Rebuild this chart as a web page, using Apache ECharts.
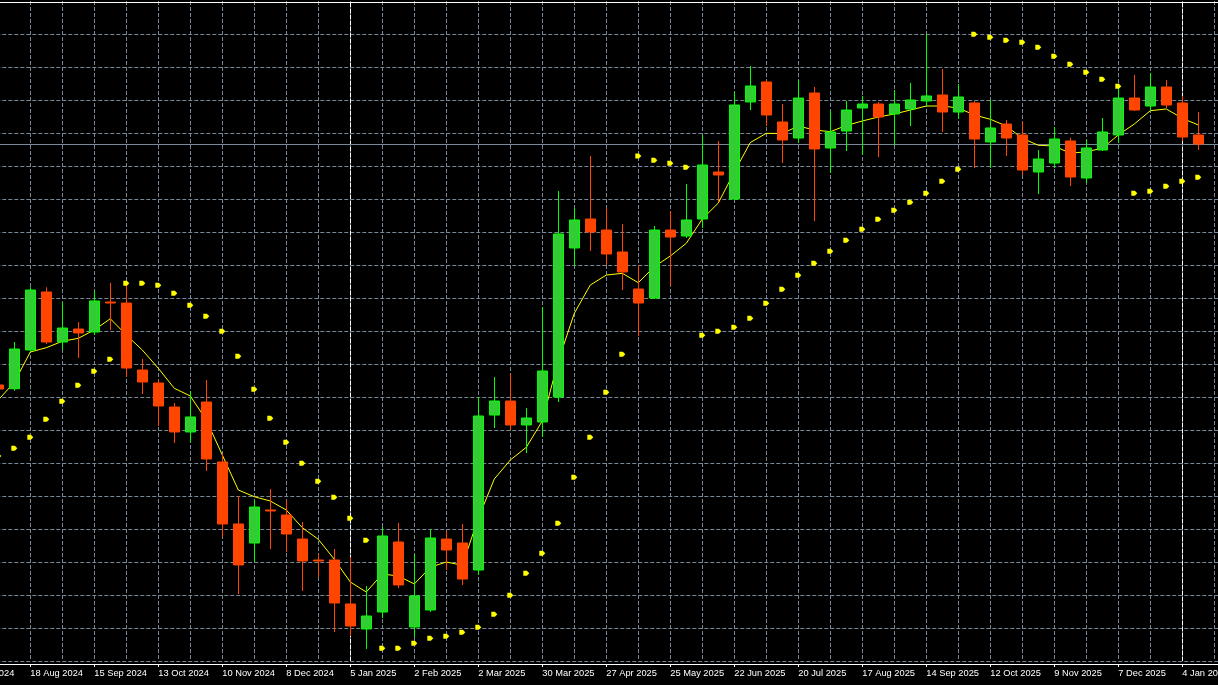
<!DOCTYPE html>
<html>
<head>
<meta charset="utf-8">
<script src="https://cdn.jsdelivr.net/npm/echarts@6/dist/echarts.min.js"></script>
<style>
html,body{margin:0;padding:0;background:#000;}
#c{width:1218px;height:685px;}
</style>
</head>
<body>
<div id="c"></div>
<script>
// Weekly categories (21 Jul 2024 .. 25 Jan 2026)
const weeks = [
'21 Jul 2024','28 Jul 2024','4 Aug 2024','11 Aug 2024','18 Aug 2024','25 Aug 2024','1 Sep 2024','8 Sep 2024','15 Sep 2024','22 Sep 2024','29 Sep 2024','6 Oct 2024','13 Oct 2024','20 Oct 2024','27 Oct 2024','3 Nov 2024','10 Nov 2024','17 Nov 2024','24 Nov 2024','1 Dec 2024','8 Dec 2024','15 Dec 2024','22 Dec 2024','29 Dec 2024',
'5 Jan 2025','12 Jan 2025','19 Jan 2025','26 Jan 2025','2 Feb 2025','9 Feb 2025','16 Feb 2025','23 Feb 2025','2 Mar 2025','9 Mar 2025','16 Mar 2025','23 Mar 2025','30 Mar 2025','6 Apr 2025','13 Apr 2025','20 Apr 2025','27 Apr 2025','4 May 2025','11 May 2025','18 May 2025','25 May 2025','1 Jun 2025','8 Jun 2025','15 Jun 2025','22 Jun 2025','29 Jun 2025','6 Jul 2025','13 Jul 2025','20 Jul 2025','27 Jul 2025','3 Aug 2025','10 Aug 2025','17 Aug 2025','24 Aug 2025','31 Aug 2025','7 Sep 2025','14 Sep 2025','21 Sep 2025','28 Sep 2025','5 Oct 2025','12 Oct 2025','19 Oct 2025','26 Oct 2025','2 Nov 2025','9 Nov 2025','16 Nov 2025','23 Nov 2025','30 Nov 2025','7 Dec 2025','14 Dec 2025','21 Dec 2025','28 Dec 2025',
'4 Jan 2026','11 Jan 2026','18 Jan 2026','25 Jan 2026'
];
// first bar (4 Aug 2024) is at this position in weeks
const firstBar = 2;

const open = [141.82,141.26,147.12,155.91,148.33,150.30,149.85,154.39,154.24,144.09,
142.12,138.48,134.70,139.24,130.15,120.76,117.88,122.88,122.12,118.48,
115.30,115.30,108.64,104.85,107.42,118.03,105.15,107.73,118.48,117.88,
113.79,137.27,139.39,135.76,136.21,140.00,162.58,166.97,165.30,161.97,
156.36,155.00,165.30,164.39,166.97,174.09,170.00,184.70,187.73,181.67,
179.24,186.06,177.73,180.30,183.79,184.39,182.88,183.64,184.85,185.76,
183.18,184.55,178.64,181.36,179.70,174.09,175.45,178.79,173.18,177.42,
179.70,185.30,184.09,186.97,184.55,179.70];

const high = [142.58,148.33,156.62,156.62,154.35,151.36,156.02,157.27,157.42,145.76,
142.58,139.09,140.91,142.58,131.36,125.00,124.39,126.06,124.39,121.06,
116.21,116.97,115.76,111.36,120.30,120.91,116.21,120.00,119.70,120.76,
140.00,143.03,143.48,138.33,153.64,171.21,168.64,176.52,168.64,166.21,
160.00,165.91,168.18,172.27,179.70,178.79,186.21,190.15,188.03,184.39,
188.03,186.97,183.33,184.85,185.61,184.70,186.52,187.58,195.00,189.70,
187.42,184.85,185.00,181.97,181.67,177.42,180.91,179.24,178.94,182.27,
187.42,188.79,189.09,188.03,185.61,183.18];

const low = [140.30,140.95,146.86,148.03,147.12,145.91,149.39,150.15,143.08,140.45,
135.61,133.03,133.18,128.79,118.79,110.15,115.00,116.97,116.52,110.61,
112.73,104.39,103.79,101.82,106.52,111.06,103.64,107.42,113.79,111.52,
113.03,135.30,135.00,131.52,133.94,139.24,159.85,162.12,160.00,156.21,
149.24,154.85,156.82,164.09,165.61,169.55,169.85,183.48,181.06,175.45,
178.48,166.67,173.94,177.27,176.67,176.36,178.18,181.06,184.09,180.15,
182.12,174.70,174.70,176.52,173.64,170.76,174.70,171.97,172.42,177.27,
178.48,183.33,183.33,183.79,178.79,177.42];

const close = [141.21,147.27,156.21,148.33,150.45,149.70,154.55,154.24,144.39,142.27,
138.64,134.70,136.97,130.61,120.76,114.55,123.33,122.73,119.24,115.15,
115.15,108.79,105.30,106.82,118.94,111.52,109.85,118.64,116.82,112.42,
137.12,139.39,135.76,136.82,143.94,164.70,166.82,165.00,161.67,158.94,
154.24,165.30,164.24,166.82,175.15,173.64,184.24,187.12,182.73,178.94,
185.30,177.58,180.15,183.48,184.39,182.42,184.39,185.00,185.61,183.18,
185.45,179.09,180.76,179.24,174.39,176.06,179.09,173.33,177.73,180.15,
185.30,183.48,186.97,184.24,179.39,178.33];

// moving average line
const ma = [139.55,142.23,146.82,147.47,148.44,148.89,150.15,151.86,149.39,147.12,
144.35,141.32,140.15,136.52,131.21,125.91,124.89,124.24,122.88,120.20,
118.44,115.41,111.97,110.45,113.18,112.88,111.67,114.20,115.00,114.50,
121.62,127.58,130.45,132.38,136.36,145.45,152.68,156.97,158.48,158.74,
157.32,159.74,161.36,163.29,166.97,169.39,174.09,178.56,179.95,179.92,
181.06,180.45,180.20,181.14,181.82,182.42,182.88,183.48,184.09,184.09,
183.79,182.73,182.08,181.06,179.20,178.14,178.03,176.92,177.17,177.68,
179.70,181.36,183.38,183.64,182.23,181.21];

// parabolic SAR dots
const sar = [131.06,132.23,133.89,136.62,139.35,141.77,143.89,145.71,157.23,157.23,
156.92,155.71,153.89,152.23,149.95,146.17,141.17,136.77,133.14,129.95,
127.23,124.80,121.62,118.29,101.92,101.92,102.68,103.44,103.74,104.35,
105.11,107.08,109.95,113.29,116.32,120.86,127.83,133.89,140.71,146.47,
176.52,175.86,175.41,174.80,149.35,149.95,150.56,151.92,154.20,156.32,
158.44,160.26,162.08,163.74,165.41,166.92,168.29,169.50,170.86,172.68,
174.50,194.95,194.50,194.05,193.74,192.98,191.62,190.41,189.20,188.14,
187.08,170.86,171.17,171.92,172.68,173.29];

const labelEvery = 4;
const gridEvery = 2;

const barAt = (i) => i - firstBar;
const inRange = (j) => j >= 0 && j < open.length;

const candleData = weeks.map((_, i) => { const j = barAt(i); return inRange(j) ? [open[j], close[j], low[j], high[j]] : '-'; });
const maData = weeks.map((_, i) => { const j = barAt(i); return inRange(j) ? ma[j] : null; });
const sarData = weeks.map((_, i) => { const j = barAt(i); return inRange(j) ? sar[j] : null; });

// year separators
const sepIdx = [];
for (let i = 1; i < weeks.length; i++) {
  if (weeks[i].slice(-4) !== weeks[i-1].slice(-4)) sepIdx.push(i);
}
const lastClose = close[close.length - 1];

const GRIDC = '#778899';
const DASH = [4, 2];
const chart = echarts.init(document.getElementById('c'), null, {renderer: 'canvas'});
chart.setOption({
  backgroundColor: '#000000',
  animation: false,
  grid: {left: -33.7, top: 1, width: 1264, height: 660, containLabel: false, outerBoundsMode: 'none'},
  xAxis: [{
    type: 'category', data: weeks, boundaryGap: false, offset: 3,
    axisLine: {show: true, lineStyle: {color: '#ffffff', width: 1}},
    axisTick: {show: true, length: 3, interval: (i) => i % labelEvery === 0, lineStyle: {color: '#ffffff'}},
    axisLabel: {show: true, interval: (i) => i % labelEvery === 0, color: '#ffffff', fontFamily: 'Liberation Sans', fontSize: 9.3, align: 'left', margin: 5, hideOverlap: false},
    splitLine: {show: true, interval: (i) => i % gridEvery === 0, lineStyle: {color: GRIDC, width: 1, type: DASH}}
  }, {
    type: 'category', data: weeks, boundaryGap: false, position: 'top', offset: -1,
    axisLine: {show: true, lineStyle: {color: '#ffffff', width: 1}},
    axisTick: {show: false}, axisLabel: {show: false}, splitLine: {show: false}
  }],
  yAxis: {
    type: 'value', min: 100, max: 200, interval: 5, position: 'right', scale: false,
    axisLine: {show: false}, axisTick: {show: false}, axisLabel: {show: false},
    splitLine: {show: true, showMaxLine: false, lineStyle: {color: GRIDC, width: 1, type: DASH}}
  },
  series: [
    {
      type: 'line', name: 'MA', data: maData, symbol: 'none', z: 1,
      lineStyle: {color: '#ffff00', width: 1}, connectNulls: false,
      markLine: {
        silent: true, z: 1, symbol: ['none', 'none'], label: {show: false}, animation: false,
        data: sepIdx.map(i => ({xAxis: i, lineStyle: {color: '#ffffff', width: 1, type: DASH}}))
          .concat([{yAxis: lastClose, lineStyle: {color: GRIDC, width: 1, type: 'solid'}}])
      }
    },
    {
      type: 'candlestick', name: 'price', data: candleData, z: 2, barWidth: 10,
      itemStyle: {color: '#32cd32', color0: '#ff4500', borderColor: '#00ff00', borderColor0: '#ff4500', borderWidth: 1}
    },
    {
      type: 'scatter', name: 'SAR', data: sarData, z: 3,
      symbol: 'path://M0,0L3,0L5,2.5L3,5L0,5Z', symbolSize: [6, 5],
      itemStyle: {color: '#ffff00', opacity: 1}
    }
  ]
});
</script>
</body>
</html>
